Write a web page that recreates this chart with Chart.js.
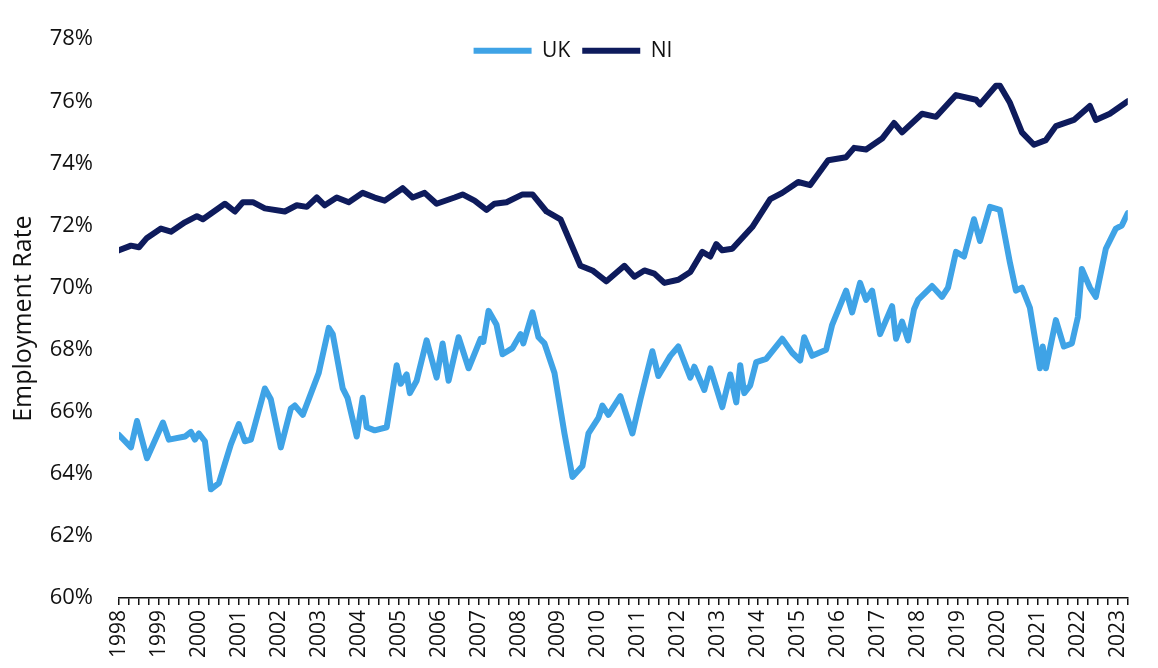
<!DOCTYPE html>
<html>
<head>
<meta charset="utf-8">
<script src="https://cdn.jsdelivr.net/npm/chart.js@4"></script>
<style>
  html, body { margin: 0; padding: 0; background: #fff; }
  #wrap { width: 1158px; height: 668px; }
</style>
</head>
<body>
<div id="wrap"><canvas id="myChart"></canvas></div>
<script>
// employment rate, dates as decimal years
const ukDates = [1998.00, 1998.30, 1998.45, 1998.70, 1999.10, 1999.25, 1999.65, 1999.80, 1999.90, 2000.00,
  2000.15, 2000.30, 2000.50, 2000.80, 2001.00, 2001.15, 2001.30, 2001.65, 2001.80, 2002.05,
  2002.30, 2002.40, 2002.60, 2003.00, 2003.25, 2003.35, 2003.60, 2003.72, 2003.95, 2004.10,
  2004.20, 2004.40, 2004.70, 2004.95, 2005.05, 2005.20, 2005.28, 2005.45, 2005.70, 2005.95,
  2006.10, 2006.25, 2006.50, 2006.75, 2007.05, 2007.12, 2007.25, 2007.45, 2007.60, 2007.85,
  2008.05, 2008.12, 2008.35, 2008.50, 2008.65, 2008.90, 2009.15, 2009.35, 2009.60, 2009.75,
  2010.00, 2010.10, 2010.25, 2010.55, 2010.85, 2011.05, 2011.35, 2011.50, 2011.80, 2012.00,
  2012.30, 2012.40, 2012.65, 2012.80, 2013.10, 2013.30, 2013.45, 2013.55, 2013.65, 2013.80,
  2013.95, 2014.20, 2014.60, 2014.85, 2015.05, 2015.15, 2015.35, 2015.70, 2015.85, 2016.20,
  2016.35, 2016.55, 2016.70, 2016.85, 2017.05, 2017.20, 2017.35, 2017.45, 2017.60, 2017.75,
  2017.90, 2018.00, 2018.35, 2018.60, 2018.75, 2018.95, 2019.15, 2019.40, 2019.55, 2019.80,
  2020.05, 2020.30, 2020.45, 2020.60, 2020.80, 2021.05, 2021.12, 2021.20, 2021.45, 2021.65,
  2021.85, 2022.00, 2022.10, 2022.30, 2022.45, 2022.70, 2022.95, 2023.10, 2023.25];
const ukRates = [65.25, 64.85, 65.7, 64.5, 65.65, 65.1, 65.2, 65.35, 65.1, 65.3,
  65.05, 63.5, 63.7, 64.95, 65.6, 65.05, 65.1, 66.75, 66.4, 64.85,
  66.1, 66.2, 65.9, 67.25, 68.7, 68.5, 66.75, 66.45, 65.2, 66.45,
  65.5, 65.4, 65.5, 67.5, 66.9, 67.2, 66.6, 67.0, 68.3, 67.1,
  68.2, 67.0, 68.4, 67.4, 68.35, 68.25, 69.25, 68.8, 67.85, 68.05,
  68.5, 68.2, 69.2, 68.4, 68.2, 67.25, 65.3, 63.9, 64.25, 65.3,
  65.8, 66.2, 65.9, 66.5, 65.3, 66.4, 67.95, 67.15, 67.8, 68.1,
  67.1, 67.45, 66.7, 67.4, 66.15, 67.2, 66.3, 67.5, 66.6, 66.85,
  67.6, 67.7, 68.35, 67.9, 67.65, 68.4, 67.8, 68.0, 68.8, 69.9,
  69.2, 70.15, 69.6, 69.9, 68.5, 68.95, 69.4, 68.35, 68.9, 68.3,
  69.3, 69.6, 70.05, 69.7, 70.0, 71.15, 71.0, 72.2, 71.5, 72.6,
  72.5, 70.8, 69.9, 70.0, 69.35, 67.4, 68.1, 67.4, 68.95, 68.1,
  68.2, 69.05, 70.6, 70.0, 69.7, 71.25, 71.9, 72.0, 72.4];

const niDates = [1998.00, 1998.30, 1998.50, 1998.70, 1999.05, 1999.30, 1999.65, 1999.95, 2000.10, 2000.65,
  2000.90, 2001.10, 2001.35, 2001.65, 2002.15, 2002.45, 2002.70, 2002.95, 2003.15, 2003.45,
  2003.75, 2004.10, 2004.40, 2004.65, 2005.10, 2005.35, 2005.65, 2005.95, 2006.40, 2006.60,
  2006.90, 2007.20, 2007.40, 2007.70, 2008.10, 2008.35, 2008.70, 2009.05, 2009.30, 2009.55,
  2009.85, 2010.20, 2010.65, 2010.90, 2011.15, 2011.40, 2011.65, 2012.00, 2012.30, 2012.60,
  2012.80, 2012.95, 2013.10, 2013.35, 2013.85, 2014.30, 2014.60, 2015.00, 2015.30, 2015.75,
  2016.20, 2016.40, 2016.70, 2017.10, 2017.40, 2017.60, 2018.10, 2018.45, 2018.95, 2019.45,
  2019.55, 2019.95, 2020.05, 2020.30, 2020.60, 2020.90, 2021.20, 2021.45, 2021.90, 2022.30,
  2022.45, 2022.80, 2023.25];
const niRates = [71.2, 71.35, 71.3, 71.6, 71.9, 71.8, 72.1, 72.3, 72.2, 72.7,
  72.45, 72.75, 72.75, 72.55, 72.45, 72.65, 72.6, 72.9, 72.65, 72.9,
  72.75, 73.05, 72.9, 72.8, 73.2, 72.9, 73.05, 72.7, 72.9, 73.0,
  72.8, 72.5, 72.7, 72.75, 73.0, 73.0, 72.45, 72.2, 71.45, 70.7,
  70.55, 70.2, 70.7, 70.35, 70.55, 70.45, 70.15, 70.25, 70.5, 71.15,
  71.0, 71.4, 71.2, 71.25, 71.95, 72.85, 73.05, 73.4, 73.3, 74.1,
  74.2, 74.5, 74.45, 74.8, 75.3, 75.0, 75.6, 75.5, 76.2, 76.05,
  75.9, 76.5, 76.5, 75.95, 75.0, 74.6, 74.75, 75.2, 75.4, 75.85,
  75.4, 75.6, 76.0];

const yearStart = 1998;
const yearEnd = 2023.25;

function points(dates, rates) {
  return dates.map((d, i) => ({ x: d, y: rates[i] }));
}

const font = "'Open Sans', sans-serif";

// let the legend sit inside the plot area instead of taking its own row
const legendInside = {
  id: 'legendInside',
  beforeLayout(chart) {
    const lg = chart.legend;
    if (lg && !lg._inside) {
      const fit = lg.fit;
      lg.fit = function () { fit.call(this); this._realHeight = this.height; this.height = 0; };
      lg._inside = true;
    }
  },
  afterLayout(chart) {
    const lg = chart.legend;
    if (lg && lg._realHeight) {
      lg.top = lg.top - 11;
      lg.height = lg._realHeight;
      lg.bottom = lg.top + lg.height;
    }
  }
};

const ctx = document.getElementById('myChart');
const chart = new Chart(ctx, {
  type: 'line',
  data: {
    datasets: [{
      label: 'UK',
      data: points(ukDates, ukRates),
      borderColor: '#3fa3e6',
      backgroundColor: '#3fa3e6',
      borderWidth: 6,
      borderCapStyle: 'round',
      borderJoinStyle: 'round',
      pointRadius: 0,
      tension: 0
    }, {
      label: 'NI',
      data: points(niDates, niRates),
      borderColor: '#0e1b5c',
      backgroundColor: '#0e1b5c',
      borderWidth: 6,
      borderCapStyle: 'round',
      borderJoinStyle: 'round',
      pointRadius: 0,
      tension: 0
    }]
  },
  plugins: [legendInside],
  options: {
    responsive: true,
    maintainAspectRatio: false,
    animation: false,
    layout: { padding: { top: 25, right: 12, bottom: 0, left: 0 } },
    plugins: {
      tooltip: { enabled: false },
      legend: {
        display: true,
        position: 'top',
        align: 'center',
        labels: {
          usePointStyle: true,
          pointStyle: 'line',
          pointStyleWidth: 58,
          padding: 12,
          color: '#111',
          font: { family: font, size: 21 }
        }
      }
    },
    scales: {
      x: {
        type: 'linear',
        min: yearStart,
        max: yearEnd,
        afterFit: (s) => { s.height = 70; },
        border: { display: true, color: '#111', width: 1.5 },
        grid: { display: true, drawOnChartArea: false, drawTicks: true, tickLength: 7, color: '#111', lineWidth: 1.5 },
        ticks: {
          stepSize: 0.25,
          autoSkip: false,
          minRotation: 90,
          maxRotation: 90,
          padding: 5,
          color: '#111',
          font: { family: font, size: 21 },
          callback: (v) => Math.abs(v - Math.round(v)) < 1e-6 ? String(Math.round(v)) : ''
        }
      },
      y: {
        min: 60,
        max: 78,
        afterFit: (s) => { s.width = 119; },
        border: { display: false },
        grid: { display: false, drawTicks: false },
        ticks: {
          stepSize: 2,
          padding: 26,
          color: '#111',
          font: { family: font, size: 22 },
          callback: (v) => v + '%'
        },
        title: {
          display: true,
          text: 'Employment Rate',
          color: '#111',
          padding: { top: 9, bottom: 0 },
          font: { family: font, size: 25 }
        }
      }
    }
  }
});
</script>
</body>
</html>
